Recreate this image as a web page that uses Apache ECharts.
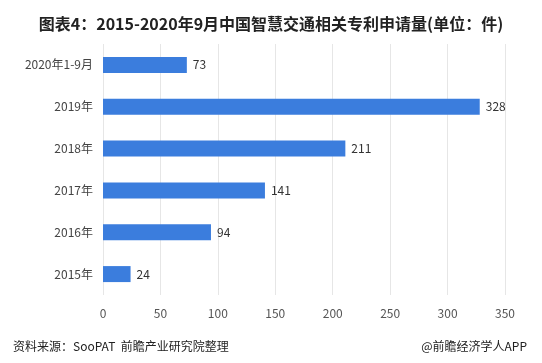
<!DOCTYPE html>
<html><head><meta charset="utf-8">
<script src="https://cdn.jsdelivr.net/npm/echarts@6/dist/echarts.min.js"></script>
<style>html,body{margin:0;padding:0;background:#fff}#c{width:542px;height:363px}</style>
</head><body><div id="c"></div>
<script>
var categories = ['2015年','2016年','2017年','2018年','2019年','2020年1-9月'];
var values = [24, 94, 141, 211, 328, 73];
var xTicks = [0,50,100,150,200,250,300,350];
var chart = echarts.init(document.getElementById('c'));
chart.setOption({
  backgroundColor:'#fff',
  title:[{text:'图表4：2015-2020年9月中国智慧交通相关专利申请量(单位：件)',left:'center',top:11,
    textStyle:{fontSize:16,fontWeight:'bold',color:'#222',fontFamily:'Noto Sans CJK SC'}},
    {text:'资料来源：SooPAT  前瞻产业研究院整理',left:8,top:335,textStyle:{fontSize:12,fontWeight:'normal',color:'#222',fontFamily:'Noto Sans CJK SC'}},
    {text:'@前瞻经济学人APP',right:10,top:335,textStyle:{fontSize:12,fontWeight:'normal',color:'#222',fontFamily:'Noto Sans CJK SC'}}],
  grid:{left:103,right:37,top:44,bottom:68},
  xAxis:{type:'value',min:0,max:350,interval:50,
    axisLine:{show:false},axisTick:{show:false},
    splitLine:{lineStyle:{color:'#e6e6e6'}},
    axisLabel:{color:'#555',fontSize:12,margin:12,fontFamily:'Noto Sans CJK SC'}},
  yAxis:{type:'category',data:categories,
    axisLine:{show:false},axisTick:{show:false},
    axisLabel:{color:'#444',fontSize:12,margin:10,fontFamily:'Noto Sans CJK SC'}},
  series:[{type:'bar',data:values,barWidth:16,
    itemStyle:{color:'#3b7ddd'},
    label:{show:true,position:'right',color:'#333',fontSize:12,distance:6,fontFamily:'Noto Sans CJK SC'}}]
});
</script></body></html>
